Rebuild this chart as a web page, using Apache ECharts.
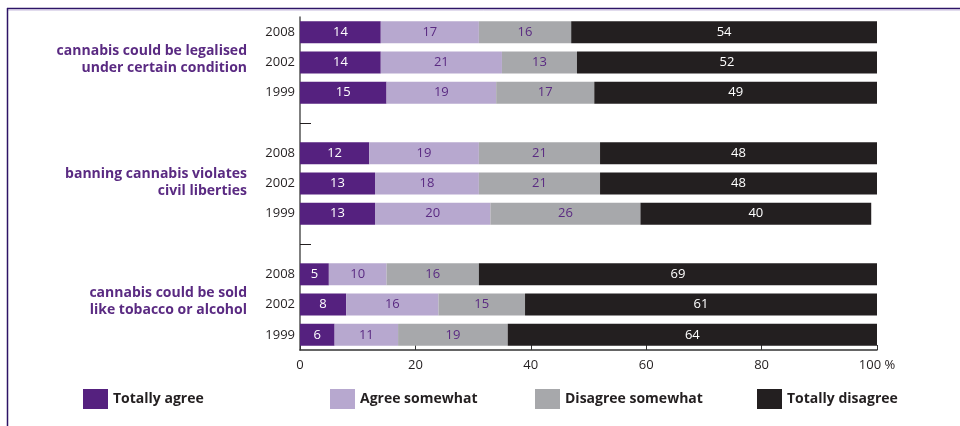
<!DOCTYPE html>
<html>
<head>
<meta charset="utf-8">
<script src="https://cdn.jsdelivr.net/npm/echarts@6/dist/echarts.min.js"></script>
<style>html,body{margin:0;padding:0;background:#fff;}#c{width:960px;height:426px;}</style>
</head>
<body>
<div id="c"></div>
<script>
// Row keys (top to bottom); "gap" rows separate the three statements
var categories = ['g1-2008','g1-2002','g1-1999','gap1','g2-2008','g2-2002','g2-1999','gap2','g3-2008','g3-2002','g3-1999'];
var groupLabels = ['cannabis could be legalised\nunder certain condition', 'banning cannabis violates\ncivil liberties', 'cannabis could be sold\nlike tobacco or alcohol'];
var seriesNames = ['Totally agree','Agree somewhat','Disagree somewhat','Totally disagree'];
var totallyAgree     = [14, 14, 15, null, 12, 13, 13, null, 5, 8, 6];
var agreeSomewhat    = [17, 21, 19, null, 19, 18, 20, null, 10, 16, 11];
var disagreeSomewhat = [16, 13, 17, null, 21, 21, 26, null, 16, 15, 19];
var totallyDisagree  = [54, 52, 49, null, 48, 48, 40, null, 69, 61, 64];
var xTicks = ['0','20','40','60','80','100 %'];

var colors = ['#55217f','#b7a8cf','#a7a8ab','#231f20'];
var labelColors = ['#ffffff','#5a2a82','#5a2a82','#ffffff'];
var seriesData = [totallyAgree, agreeSomewhat, disagreeSomewhat, totallyDisagree];
var FONT = '"Open Sans", "Noto Sans", sans-serif';

var series = seriesNames.map(function (n, i) {
  return {
    name: n, type: 'bar', stack: 'all', barWidth: 22,
    data: seriesData[i],
    itemStyle: { color: colors[i] },
    label: { show: true, position: 'inside', formatter: '{c}', color: labelColors[i], fontSize: 13, fontFamily: FONT },
    emphasis: { disabled: true }
  };
});

var legendX = [83, 330, 535, 757];
var legends = seriesNames.map(function (n, i) {
  return {
    data: [n], left: legendX[i], top: 389, padding: 0,
    icon: 'rect', itemWidth: 25, itemHeight: 20, itemGap: 5,
    textStyle: { fontSize: 14, fontWeight: 'bold', color: '#231f20', fontFamily: FONT },
    selectedMode: false
  };
});

var labelY = [60, 183, 302];
var graphics = [
  { type: 'line', shape: { x1: 7, y1: 8.5, x2: 960, y2: 8.5 }, style: { stroke: '#2d1466', lineWidth: 1.5 } },
  { type: 'line', shape: { x1: 7, y1: 10, x2: 960, y2: 10 }, style: { stroke: '#c4b8dc', lineWidth: 1 } },
  { type: 'line', shape: { x1: 7.5, y1: 8, x2: 7.5, y2: 426 }, style: { stroke: '#2d1466', lineWidth: 1.5 } }
];
groupLabels.forEach(function (t, i) {
  graphics.push({
    type: 'text', x: 247, y: labelY[i],
    style: { text: t, align: 'right', verticalAlign: 'middle', fill: '#5a2a82', font: 'bold 14px ' + FONT, lineHeight: 17 }
  });
});

var chart = echarts.init(document.getElementById('c'));
chart.setOption({
  animation: false,
  grid: { left: 300, right: 83, top: 17, bottom: 76, containLabel: false },
  legend: legends,
  xAxis: {
    type: 'value', min: 0, max: 100, interval: 20,
    axisLine: { show: true, lineStyle: { color: '#333', width: 1.5 } },
    axisTick: { show: true, inside: true, length: 5, lineStyle: { color: '#333' } },
    splitLine: { show: false },
    axisLabel: { color: '#231f20', fontSize: 13, fontFamily: FONT, margin: 9,
      formatter: function (v) { return xTicks[Math.round(v / 20)]; } }
  },
  yAxis: {
    type: 'category', inverse: true, data: categories,
    axisLine: { show: true, lineStyle: { color: '#555', width: 1.5 } },
    axisTick: { show: true, inside: true, length: 11, alignWithLabel: true,
      interval: function (idx, val) { return val.indexOf('gap') === 0; },
      lineStyle: { color: '#231f20' } },
    axisLabel: { color: '#231f20', fontSize: 13, fontFamily: FONT, margin: 5, interval: 0,
      formatter: function (v) { return v.indexOf('gap') === 0 ? '' : v.split('-')[1]; } }
  },
  graphic: graphics,
  series: series
});
</script>
</body>
</html>
